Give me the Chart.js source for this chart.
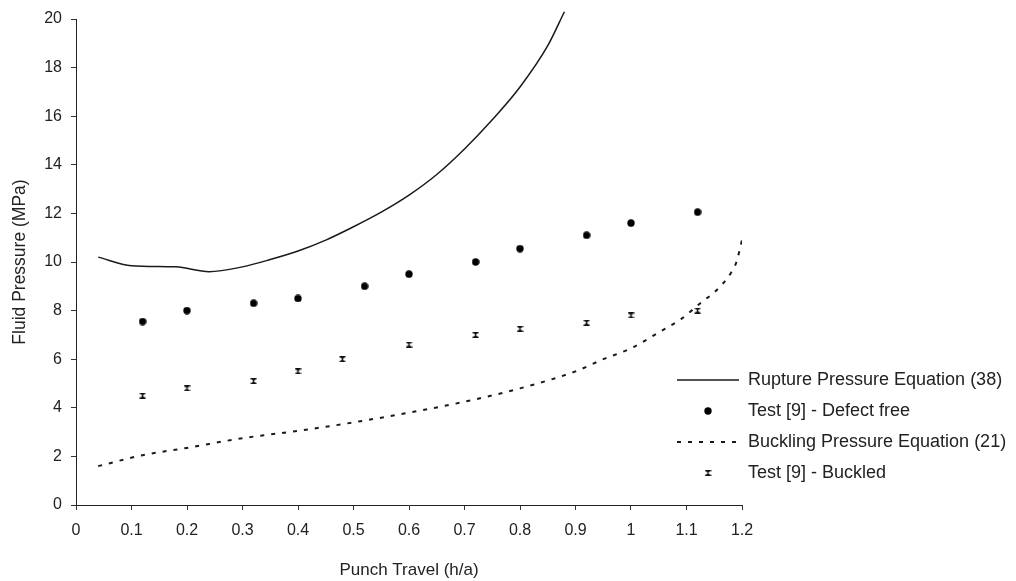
<!DOCTYPE html>
<html>
<head>
<meta charset="utf-8">
<script src="https://cdn.jsdelivr.net/npm/chart.js@4.4.1/dist/chart.umd.min.js"></script>
<style>
  html, body { margin: 0; padding: 0; background: #fff; }
  #chart { display: block; }
</style>
</head>
<body>
<canvas id="chart" width="1016" height="581"></canvas>
<script>
const xTickLabels = ['0', '0.1', '0.2', '0.3', '0.4', '0.5', '0.6', '0.7', '0.8', '0.9', '1', '1.1', '1.2'];

// Rupture Pressure Equation (38)
const ruptureX = [0.04, 0.1, 0.18, 0.24, 0.3, 0.35, 0.4, 0.45, 0.5, 0.55, 0.6, 0.65, 0.7, 0.75, 0.8, 0.85, 0.88];
const ruptureY = [10.2, 9.85, 9.8, 9.6, 9.8, 10.1, 10.45, 10.9, 11.45, 12.05, 12.75, 13.6, 14.65, 15.85, 17.2, 18.9, 20.3];

// Buckling Pressure Equation (21)
const bucklingX = [0.04, 0.12, 0.2, 0.3, 0.4, 0.5, 0.6, 0.7, 0.8, 0.9, 0.95, 1.0, 1.05, 1.09, 1.13, 1.15, 1.18, 1.19, 1.2];
const bucklingY = [1.6, 2.05, 2.35, 2.75, 3.05, 3.4, 3.8, 4.25, 4.8, 5.5, 6.0, 6.45, 7.1, 7.65, 8.4, 8.75, 9.55, 10.0, 10.9];

// Test [9] - Defect free
const defectFreeX = [0.12, 0.2, 0.32, 0.4, 0.52, 0.6, 0.72, 0.8, 0.92, 1.0, 1.12];
const defectFreeY = [7.55, 8.0, 8.3, 8.5, 9.0, 9.5, 10.0, 10.55, 11.1, 11.6, 12.05];

// Test [9] - Buckled
const buckledX = [0.12, 0.2, 0.32, 0.4, 0.48, 0.6, 0.72, 0.8, 0.92, 1.0, 1.12];
const buckledY = [4.5, 4.8, 5.1, 5.5, 6.0, 6.6, 7.0, 7.25, 7.5, 7.8, 8.0];

function toPoints(xs, ys) {
  return xs.map((x, i) => ({ x: x, y: ys[i] }));
}

// marker bitmaps, used both on the plot and in the legend
function makeDot() {
  const c = document.createElement('canvas');
  c.width = 8; c.height = 8;
  const g = c.getContext('2d');
  g.fillStyle = '#000';
  g.beginPath();
  g.arc(4, 4, 3.7, 0, Math.PI * 2);
  g.fill();
  return c;
}

function makeHourglass() {
  const c = document.createElement('canvas');
  c.width = 7; c.height = 6;
  const g = c.getContext('2d');
  g.fillStyle = '#111';
  g.fillRect(0.5, 0, 6, 1.4);
  g.fillRect(0.5, 4.6, 6, 1.4);
  g.beginPath();
  g.moveTo(1, 0.5); g.lineTo(6, 0.5); g.lineTo(3.5, 3);
  g.closePath();
  g.moveTo(1, 5.5); g.lineTo(6, 5.5); g.lineTo(3.5, 3);
  g.closePath();
  g.fill();
  g.fillRect(2.8, 1, 1.4, 4);
  return c;
}

const dotStyle = makeDot();
const hourglassStyle = makeHourglass();

const FONT = 'Liberation Sans, Arial, sans-serif';
const INK = '#1a1a1a';

// the legend sits over the lower right corner of the plot
const legendPlacer = {
  id: 'legendPlacer',
  afterLayout(chart) {
    const lg = chart.legend;
    const w = lg.width, h = lg.height;
    lg.left = 664;
    lg.top = 358;
    lg.right = lg.left + w;
    lg.bottom = lg.top + h;
  }
};

new Chart(document.getElementById('chart'), {
  type: 'scatter',
  data: {
    datasets: [{
      label: 'Rupture Pressure Equation (38)',
      data: toPoints(ruptureX, ruptureY),
      showLine: true,
      borderColor: INK,
      backgroundColor: INK,
      borderWidth: 1.5,
      pointRadius: 0,
      pointStyle: 'line',
      cubicInterpolationMode: 'monotone',
      clip: false
    }, {
      label: 'Test [9] - Defect free',
      data: toPoints(defectFreeX, defectFreeY),
      pointStyle: dotStyle,
      pointRadius: 4
    }, {
      label: 'Buckling Pressure Equation (21)',
      data: toPoints(bucklingX, bucklingY),
      showLine: true,
      borderColor: INK,
      backgroundColor: INK,
      borderWidth: 2,
      borderDash: [4, 7],
      pointRadius: 0,
      pointStyle: 'line',
      cubicInterpolationMode: 'monotone'
    }, {
      label: 'Test [9] - Buckled',
      data: toPoints(buckledX, buckledY),
      pointStyle: hourglassStyle,
      pointRadius: 4
    }]
  },
  options: {
    responsive: false,
    animation: false,
    layout: {
      padding: { left: 0, top: 19, right: 274, bottom: 0 }
    },
    plugins: {
      tooltip: { enabled: false },
      legend: {
        position: 'chartArea',
        align: 'start',
        labels: {
          usePointStyle: true,
          pointStyleWidth: 62,
          boxWidth: 62,
          padding: 13,
          color: '#222',
          font: { family: FONT, size: 18 },
          generateLabels(chart) {
            const items = Chart.defaults.plugins.legend.labels.generateLabels(chart);
            items.forEach(it => {
              const ds = chart.data.datasets[it.datasetIndex];
              it.lineDash = ds.borderDash || [];
              it.lineWidth = ds.borderWidth || 1;
              it.strokeStyle = INK;
            });
            return items;
          }
        }
      }
    },
    scales: {
      x: {
        type: 'linear',
        min: 0,
        max: 1.2,
        afterFit(scale) { scale.height = 76; },
        ticks: {
          stepSize: 0.1,
          padding: 11,
          color: '#222',
          font: { family: FONT, size: 16 },
          callback: v => xTickLabels[Math.round(v * 10)]
        },
        grid: {
          drawOnChartArea: false,
          drawTicks: true,
          tickLength: 5,
          color: '#333'
        },
        border: { display: true, color: '#222', width: 1 },
        title: {
          display: true,
          text: 'Punch Travel (h/a)',
          color: '#222',
          font: { family: FONT, size: 17 },
          padding: { top: 0, bottom: 0 }
        }
      },
      y: {
        min: 0,
        max: 20,
        afterFit(scale) { scale.width = 76; },
        ticks: {
          stepSize: 2,
          padding: 9,
          color: '#222',
          font: { family: FONT, size: 16 }
        },
        grid: {
          drawOnChartArea: false,
          drawTicks: true,
          tickLength: 5,
          color: '#333'
        },
        border: { display: true, color: '#222', width: 1 },
        title: {
          display: true,
          text: 'Fluid Pressure (MPa)',
          color: '#222',
          font: { family: FONT, size: 17.5 },
          padding: { top: 10, bottom: 0 }
        }
      }
    }
  },
  plugins: [legendPlacer]
});
</script>
</body>
</html>
